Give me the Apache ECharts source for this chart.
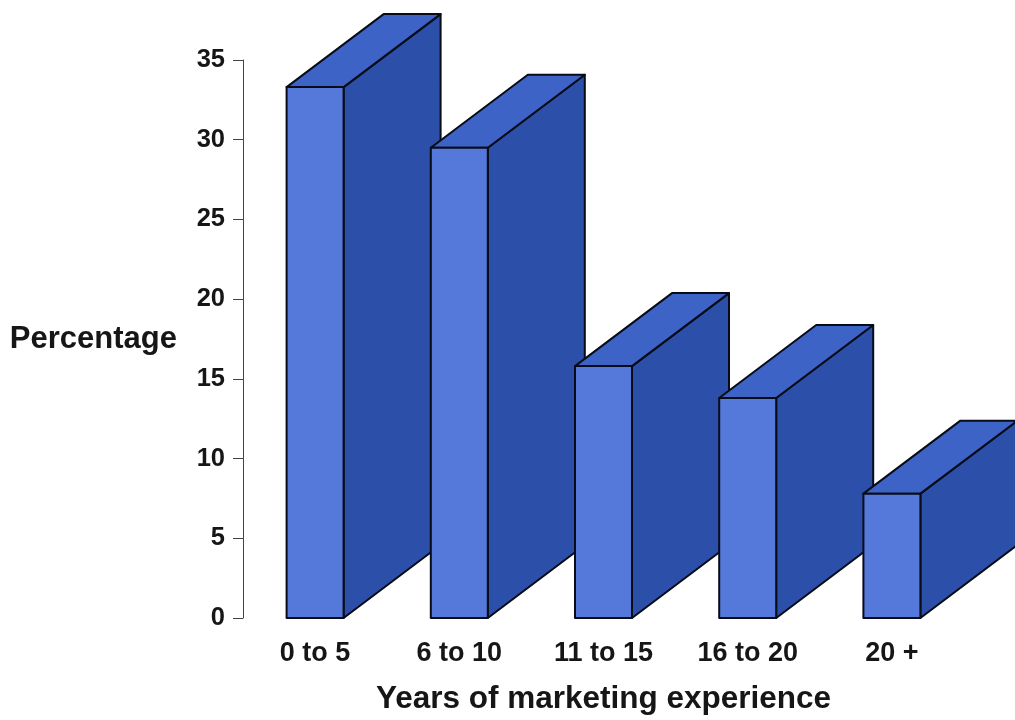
<!DOCTYPE html>
<html>
<head>
<meta charset="utf-8">
<style>
  html, body { margin: 0; padding: 0; background: #ffffff; }
  #chart { width: 1015px; height: 720px; }
</style>
<script src="https://cdn.jsdelivr.net/npm/echarts@6/dist/echarts.min.js"></script>
</head>
<body>
<div id="chart"></div>
<script>
// Share of respondents by years of marketing experience
const categories = ['0 to 5', '6 to 10', '11 to 15', '16 to 20', '20 +'];
const percentages = [33.3, 29.5, 15.8, 13.8, 7.8];
const yTicks = { min: 0, max: 35, interval: 5 };

// Box geometry (pixels): front width and receding depth offset
const FRONT_W = 57;
const DEPTH_X = 97;
const DEPTH_Y = -73;

const COLORS = {
  front: '#5479da',
  top: '#3e63c6',
  side: '#2c4fa9',
  edge: '#080c18'
};

const FONT = '"Liberation Sans", Arial, sans-serif';

function renderBox(params, api) {
  const idx = api.value(0);
  const val = api.value(1);
  const topPt = api.coord([idx, val]);
  const basePt = api.coord([idx, 0]);
  const x0 = topPt[0] - FRONT_W / 2;
  const x1 = topPt[0] + FRONT_W / 2;
  const yt = topPt[1];
  const yb = basePt[1];
  const edgeStyle = { stroke: COLORS.edge, lineWidth: 2, lineJoin: 'round' };

  return {
    type: 'group',
    children: [
      {
        type: 'polygon',
        shape: { points: [[x1, yb], [x1, yt], [x1 + DEPTH_X, yt + DEPTH_Y], [x1 + DEPTH_X, yb + DEPTH_Y]] },
        style: Object.assign({ fill: COLORS.side }, edgeStyle)
      },
      {
        type: 'polygon',
        shape: { points: [[x0, yt], [x0 + DEPTH_X, yt + DEPTH_Y], [x1 + DEPTH_X, yt + DEPTH_Y], [x1, yt]] },
        style: Object.assign({ fill: COLORS.top }, edgeStyle)
      },
      {
        type: 'rect',
        shape: { x: x0, y: yt, width: FRONT_W, height: yb - yt },
        style: Object.assign({ fill: COLORS.front }, edgeStyle)
      }
    ]
  };
}

const chart = echarts.init(document.getElementById('chart'), null, { renderer: 'canvas' });

chart.setOption({
  backgroundColor: '#ffffff',
  animation: false,
  grid: { left: 243, right: 51, top: 60, bottom: 98.5 },
  xAxis: {
    type: 'category',
    data: categories,
    boundaryGap: true,
    axisLine: { show: false },
    axisTick: { show: false },
    axisLabel: {
      margin: 22,
      fontFamily: FONT,
      fontWeight: 'bold',
      fontSize: 27,
      color: '#161616'
    },
    name: 'Years of marketing experience',
    nameLocation: 'middle',
    nameGap: 65,
    nameTextStyle: {
      fontFamily: FONT,
      fontWeight: 'bold',
      fontSize: 31.5,
      color: '#161616'
    }
  },
  yAxis: {
    type: 'value',
    min: yTicks.min,
    max: yTicks.max,
    interval: yTicks.interval,
    splitLine: { show: false },
    axisLine: { show: true, lineStyle: { color: '#444444', width: 1 } },
    axisTick: { show: true, length: 10, lineStyle: { color: '#444444', width: 1 } },
    axisLabel: {
      margin: 18,
      fontFamily: FONT,
      fontWeight: 'bold',
      fontSize: 25.5,
      color: '#161616'
    },
    name: 'Percentage',
    nameLocation: 'middle',
    nameRotate: 0,
    nameGap: 66,
    nameTextStyle: {
      fontFamily: FONT,
      fontWeight: 'bold',
      fontSize: 31,
      color: '#161616'
    }
  },
  series: [{
    type: 'custom',
    silent: true,
    clip: false,
    renderItem: renderBox,
    encode: { x: 0, y: 1 },
    data: percentages.map((v, i) => [i, v])
  }]
});
</script>
</body>
</html>
